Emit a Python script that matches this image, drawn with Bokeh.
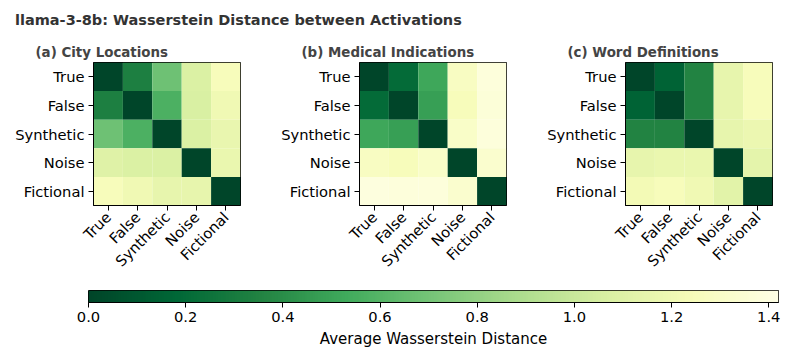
import math
import numpy as np
from bokeh.plotting import figure
from bokeh.layouts import column, row, Spacer
from bokeh.models import (FactorRange, Range1d, LinearColorMapper, FixedTicker, PrintfTickFormatter,
                          ColumnDataSource, Div)
from bokeh.palettes import YlGn9, interp_palette
from bokeh.transform import linear_cmap
from bokeh.embed import file_html
from bokeh.resources import INLINE

main_title = "llama-3-8b: Wasserstein Distance between Activations"
categories = ["True", "False", "Synthetic", "Noise", "Fictional"]

title_a = "(a) City Locations"
values_a = [
    [0.00, 0.33, 0.68, 1.08, 1.25],
    [0.33, 0.00, 0.57, 1.07, 1.20],
    [0.68, 0.57, 0.00, 1.08, 1.16],
    [1.10, 1.08, 1.08, 0.00, 1.17],
    [1.25, 1.20, 1.15, 1.15, 0.00],
]

title_b = "(b) Medical Indications"
values_b = [
    [0.00, 0.20, 0.52, 1.28, 1.38],
    [0.20, 0.00, 0.48, 1.25, 1.37],
    [0.52, 0.48, 0.00, 1.30, 1.38],
    [1.28, 1.25, 1.30, 0.00, 1.33],
    [1.39, 1.38, 1.38, 1.33, 0.00],
]

title_c = "(c) Word Definitions"
values_c = [
    [0.00, 0.16, 0.35, 1.15, 1.25],
    [0.16, 0.00, 0.35, 1.15, 1.25],
    [0.35, 0.35, 0.00, 1.15, 1.18],
    [1.15, 1.17, 1.17, 0.00, 1.13],
    [1.22, 1.25, 1.20, 1.12, 0.00],
]

cbar_low = 0.0
cbar_high = 1.42
cbar_ticks = [0.0, 0.2, 0.4, 0.6, 0.8, 1.0, 1.2, 1.4]
cbar_label = "Average Wasserstein Distance"

FONT = "DejaVu Sans"
TICK_SIZE = "14.7px"
palette = interp_palette(YlGn9, 256)  # dark (low) -> light (high)


def heatmap(title, values, width, border_right):
    xs, ys, vs = [], [], []
    for i, rname in enumerate(categories):
        for j, cname in enumerate(categories):
            xs.append(cname)
            ys.append(rname)
            vs.append(values[i][j])
    src = ColumnDataSource(dict(x=xs, y=ys, v=vs))
    p = figure(width=width, height=242, output_backend="svg", toolbar_location=None,
               x_range=FactorRange(factors=categories),
               y_range=FactorRange(factors=categories[::-1]),
               min_border_left=85, min_border_right=border_right,
               min_border_top=26, min_border_bottom=68)
    p.rect(x="x", y="y", width=1, height=1, source=src, line_color=None,
           fill_color=linear_cmap("v", palette, cbar_low, cbar_high))
    p.title.text = title
    p.title.align = "left"
    p.title.offset = -58
    p.title.text_font = FONT
    p.title.text_font_size = "13.4px"
    p.title.text_font_style = "bold"
    p.title.text_color = "#444444"
    p.title.standoff = 6
    p.grid.visible = False
    p.outline_line_color = "black"
    p.outline_line_width = 1
    for ax in (p.xaxis[0], p.yaxis[0]):
        ax.axis_line_color = "black"
        ax.major_tick_in = 0
        ax.major_tick_out = 5
        ax.major_tick_line_color = "black"
        ax.major_label_text_font = FONT
        ax.major_label_text_font_size = TICK_SIZE
        ax.major_label_text_color = "black"
        ax.major_label_standoff = 4
    p.xaxis.major_label_orientation = math.pi / 4
    return p


# Main title
pt = Div(text=main_title, width=776, height=28, margin=0,
         styles={"font-family": FONT, "font-size": "14.5px", "font-weight": "bold",
                 "color": "#333333", "line-height": "17px", "padding-left": "7px",
                 "padding-top": "4px", "white-space": "nowrap"})

pa = heatmap(title_a, values_a, 266, 34)
pb = heatmap(title_b, values_b, 266, 34)
pc = heatmap(title_c, values_c, 244, 12)

# Colorbar
mapper = LinearColorMapper(palette=palette, low=cbar_low, high=cbar_high)
pcb = figure(width=776, height=80, output_backend="svg", toolbar_location=None,
             x_range=Range1d(cbar_low, cbar_high), y_range=Range1d(0, 1),
             min_border_left=80, min_border_right=6, min_border_top=12, min_border_bottom=56)
grad = np.linspace(cbar_low, cbar_high, 512)[None, :]
pcb.image(image=[grad], x=cbar_low, y=0, dw=cbar_high - cbar_low, dh=1, color_mapper=mapper)
pcb.yaxis.visible = False
pcb.grid.visible = False
pcb.outline_line_color = "black"
pcb.xaxis.ticker = FixedTicker(ticks=cbar_ticks)
pcb.xaxis.formatter = PrintfTickFormatter(format="%.1f")
pcb.xaxis.major_tick_in = 0
pcb.xaxis.major_tick_out = 5
pcb.xaxis.minor_tick_line_color = None
pcb.xaxis.axis_line_color = "black"
pcb.xaxis.major_label_text_font = FONT
pcb.xaxis.major_label_text_font_size = TICK_SIZE
pcb.xaxis.major_label_text_color = "black"
pcb.xaxis.major_label_standoff = 4
pcb.xaxis.axis_label = cbar_label
pcb.xaxis.axis_label_text_font = FONT
pcb.xaxis.axis_label_text_font_size = "15px"
pcb.xaxis.axis_label_text_font_style = "normal"
pcb.xaxis.axis_label_text_color = "black"
pcb.xaxis.axis_label_standoff = 5

layout = column(Spacer(height=8),
                row(Spacer(width=8), column(pt, row(pa, pb, pc), pcb)))
open("out.html", "w").write(file_html(layout, INLINE))
